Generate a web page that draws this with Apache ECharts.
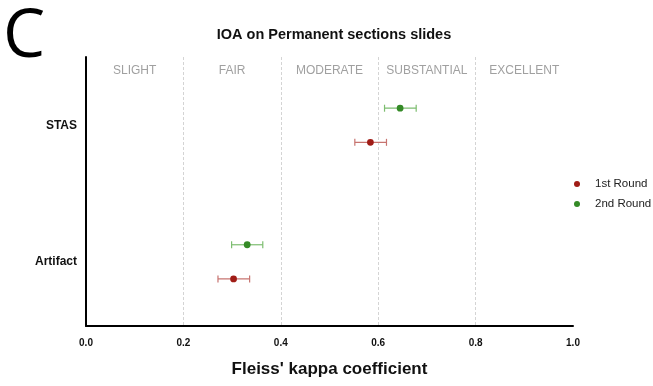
<!DOCTYPE html>
<html>
<head>
<meta charset="utf-8">
<script src="https://cdn.jsdelivr.net/npm/echarts@6/dist/echarts.min.js"></script>
<style>
  html, body { margin: 0; padding: 0; background: #fff; }
  #chart { width: 653px; height: 386px; }
</style>
</head>
<body>
<div id="chart"></div>
<script>
// Categories on the vertical axis (bottom to top)
const categories = ['Artifact', 'STAS'];
// Agreement bands along the kappa axis
const bandLabels = ['SLIGHT', 'FAIR', 'MODERATE', 'SUBSTANTIAL', 'EXCELLENT'];
const xTicks = [0, 0.2, 0.4, 0.6, 0.8, 1.0];

// Fleiss' kappa estimates with confidence bounds, per category
const round1Kappa = [0.303, 0.584];
const round1Low   = [0.271, 0.552];
const round1High  = [0.336, 0.617];

const round2Kappa = [0.331, 0.645];
const round2Low   = [0.299, 0.613];
const round2High  = [0.363, 0.678];

const seriesNames = ['1st Round', '2nd Round'];
const dotColors = ['#a01c16', '#348a26'];
const barColors = ['#c77470', '#7dbd70'];

// each category sits at index + 0.5 on the vertical value axis
const catPos = categories.map((c, i) => i + 0.5);

function rows(k, lo, hi) {
  return k.map((v, i) => [v, lo[i], hi[i], catPos[i]]);
}

function errorRenderer(dodge, dotColor, barColor) {
  return function (params, api) {
    const yv = api.value(3) + dodge;
    const c = api.coord([api.value(0), yv]);
    const l = api.coord([api.value(1), yv]);
    const h = api.coord([api.value(2), yv]);
    const y = c[1];
    const cap = 3.5;
    const lineStyle = { stroke: barColor, lineWidth: 1.2 };
    return {
      type: 'group',
      children: [
        { type: 'line', shape: { x1: l[0], y1: y, x2: h[0], y2: y }, style: lineStyle },
        { type: 'line', shape: { x1: l[0], y1: y - cap, x2: l[0], y2: y + cap }, style: lineStyle },
        { type: 'line', shape: { x1: h[0], y1: y - cap, x2: h[0], y2: y + cap }, style: lineStyle },
        { type: 'circle', shape: { cx: c[0], cy: y, r: 3.4 }, style: { fill: dotColor } }
      ]
    };
  };
}

const chart = echarts.init(document.getElementById('chart'), null, { renderer: 'canvas' });

chart.setOption({
  animation: false,
  backgroundColor: '#ffffff',
  textStyle: { fontFamily: 'Liberation Sans, Arial, sans-serif' },
  title: {
    text: 'IOA on Permanent sections slides',
    left: 329,
    textAlign: 'center',
    top: 22,
    textStyle: { fontSize: 14.5, fontWeight: 'bold', color: '#111' }
  },
  graphic: [{
    type: 'text',
    left: 3,
    top: 4,
    style: { text: 'C', font: '67px "Open Sans", "Liberation Sans", sans-serif', fill: '#000' }
  }],
  legend: {
    orient: 'vertical',
    left: 569,
    top: 172,
    itemWidth: 6,
    itemHeight: 6,
    itemGap: 6,
    icon: 'circle',
    textStyle: { fontSize: 11.5, color: '#222', padding: [0, 0, 0, 10], lineHeight: 14 },
    data: seriesNames.map((n, i) => ({ name: n, itemStyle: { color: dotColors[i] } }))
  },
  grid: { left: 86, right: 80, top: 57, bottom: 60 },
  xAxis: [{
    type: 'value',
    min: 0,
    max: 1,
    interval: 0.2,
    name: "Fleiss' kappa coefficient",
    nameLocation: 'middle',
    nameGap: 35,
    nameTextStyle: { fontSize: 17, fontWeight: 'bold', color: '#111' },
    axisLine: { show: true, lineStyle: { color: '#000', width: 2 } },
    axisTick: { show: false },
    axisLabel: {
      fontSize: 10, fontWeight: 'bold', color: '#111', margin: 12,
      formatter: v => (xTicks.includes(+v.toFixed(1)) ? v.toFixed(1) : '')
    },
    splitLine: {
      show: true,
      showMinLine: false,
      showMaxLine: false,
      lineStyle: { color: '#d4d4d4', type: [3, 2], width: 1 }
    }
  }, {
    type: 'category',
    position: 'top',
    data: bandLabels,
    boundaryGap: true,
    axisLine: { show: false },
    axisTick: { show: false },
    splitLine: { show: false },
    axisLabel: { interval: 0, inside: true, margin: 8, fontSize: 12, color: '#a0a0a0', verticalAlign: 'top' }
  }],
  yAxis: {
    type: 'value',
    min: 0.03,
    max: 2,
    axisLine: { show: true, lineStyle: { color: '#000', width: 2 } },
    axisTick: { show: false },
    splitLine: { show: false },
    axisLabel: {
      customValues: catPos,
      fontSize: 12, fontWeight: 'bold', color: '#111', margin: 9,
      formatter: v => categories[Math.round(v - 0.5)] || ''
    }
  },
  series: [
    {
      name: seriesNames[0],
      type: 'custom',
      itemStyle: { color: dotColors[0] },
      renderItem: errorRenderer(-0.125, dotColors[0], barColors[0]),
      encode: { x: [0, 1, 2], y: 3 },
      data: rows(round1Kappa, round1Low, round1High)
    },
    {
      name: seriesNames[1],
      type: 'custom',
      itemStyle: { color: dotColors[1] },
      renderItem: errorRenderer(0.125, dotColors[1], barColors[1]),
      encode: { x: [0, 1, 2], y: 3 },
      data: rows(round2Kappa, round2Low, round2High)
    }
  ]
});
</script>
</body>
</html>
